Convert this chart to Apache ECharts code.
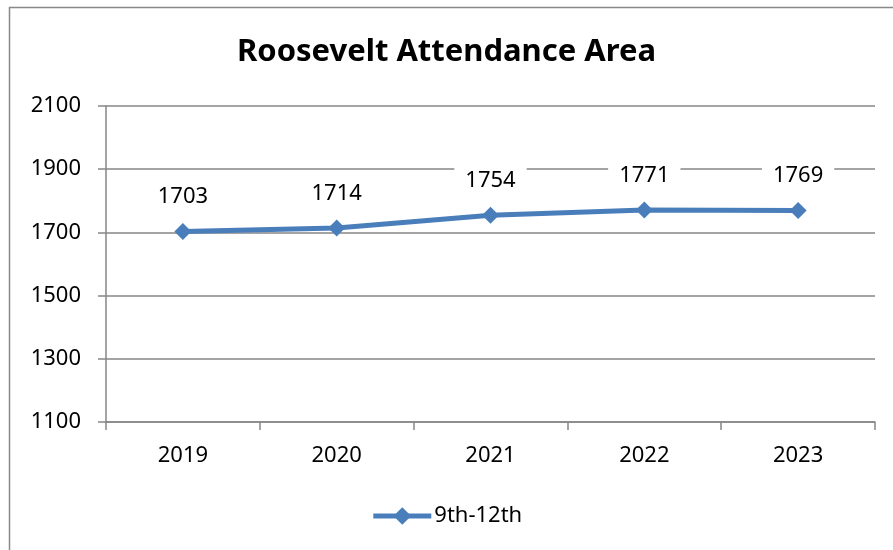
<!DOCTYPE html>
<html><head><meta charset="utf-8">
<script src="https://cdn.jsdelivr.net/npm/echarts@6/dist/echarts.min.js"></script>
<style>html,body{margin:0;padding:0;background:#fff}#c{width:893px;height:550px}</style>
</head><body><div id="c"></div>
<script>
const titleText = 'Roosevelt Attendance Area';
const categories = ['2019', '2020', '2021', '2022', '2023'];
const seriesName = '9th-12th';
const values = [1703, 1714, 1754, 1771, 1769];
const yMin = 1100, yMax = 2100, yStep = 200;

const font = '"Noto Sans", "Open Sans", sans-serif';
const chart = echarts.init(document.getElementById('c'));
chart.setOption({
  animation: false,
  backgroundColor: '#fff',
  graphic: [{
    type: 'rect', shape: {x: 9.5, y: 7.5, width: 900, height: 600},
    style: {fill: 'none', stroke: '#888', lineWidth: 1.5}, silent: true
  }],
  title: {
    text: titleText, left: 'center', top: 32,
    textStyle: {fontFamily: font, fontWeight: 'bold', fontSize: 31, color: '#000'}
  },
  legend: {
    data: [seriesName], bottom: 18, left: 'center',
    itemWidth: 58, itemHeight: 22, itemGap: 4,
    lineStyle: {width: 5},
    textStyle: {fontFamily: font, fontSize: 22, color: '#000', padding: [0, 0, 0, -2]}
  },
  grid: {left: 106, right: 18, top: 106, bottom: 128},
  xAxis: {
    type: 'category', data: categories, boundaryGap: true,
    axisLine: {lineStyle: {color: '#868686', width: 1.5}},
    axisTick: {show: true, length: 8, lineStyle: {color: '#868686', width: 1.5}},
    axisLabel: {margin: 23, fontFamily: font, fontSize: 22, color: '#000'}
  },
  yAxis: {
    type: 'value', min: yMin, max: yMax, interval: yStep,
    axisLine: {show: true, lineStyle: {color: '#868686', width: 1.5}},
    axisTick: {show: true, length: 8, lineStyle: {color: '#868686', width: 1.5}},
    splitLine: {lineStyle: {color: '#868686', width: 1.5}},
    axisLabel: {margin: 25, fontFamily: font, fontSize: 22, color: '#000',
      formatter: v => String(v)}
  },
  series: [{
    name: seriesName, type: 'line', data: values,
    symbol: 'diamond', symbolSize: 17,
    lineStyle: {color: '#4A7EBB', width: 5},
    itemStyle: {color: '#4A7EBB'},
    label: {
      show: true, position: 'top', distance: 13,
      fontFamily: font, fontSize: 22, color: '#000',
      backgroundColor: '#fff', padding: [2, 11]
    }
  }]
});
</script></body></html>
